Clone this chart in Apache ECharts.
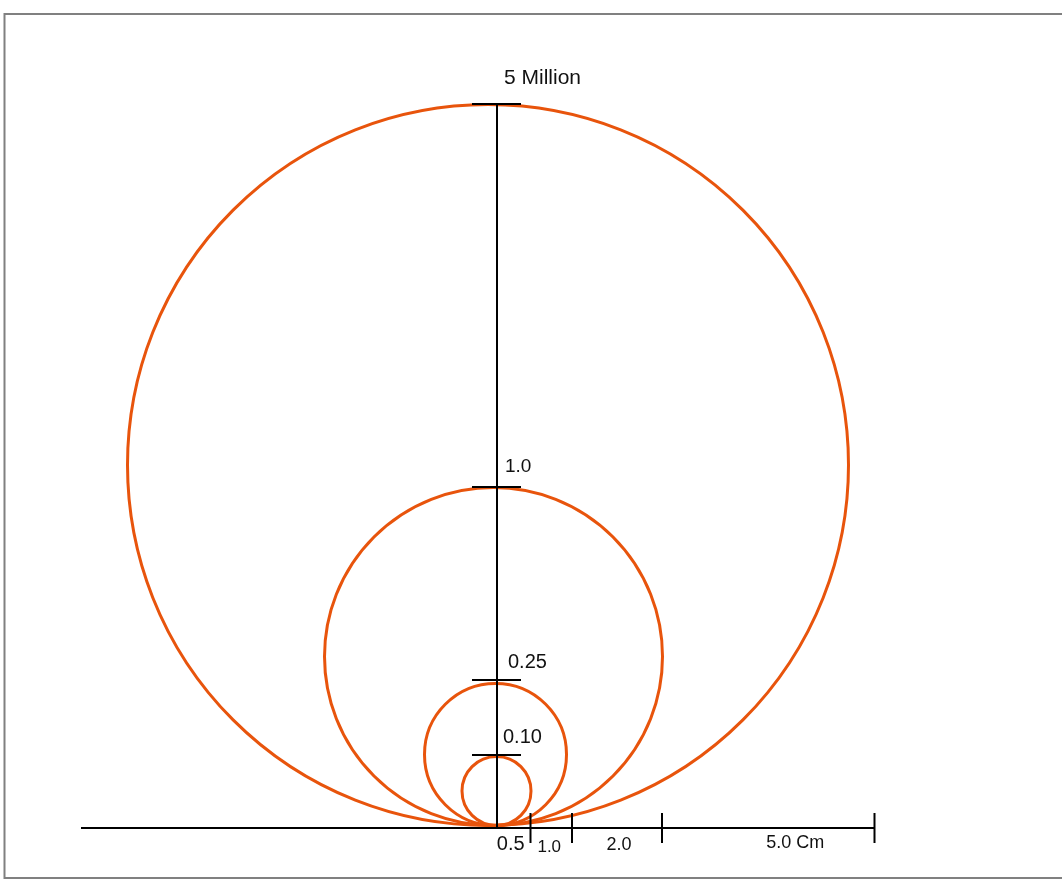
<!DOCTYPE html>
<html><head><meta charset="utf-8">
<script src="https://cdn.jsdelivr.net/npm/echarts@6/dist/echarts.min.js"></script>
<style>html,body{margin:0;padding:0;background:#fff}#c{width:1062px;height:894px}</style>
</head><body><div id="c"></div>
<script>
// ---- data (units = reference picture pixels) ----
const sizeLabels = ['0.10', '0.25', '1.0', '5 Million'];
const circleCenterX = [496.5, 495.5, 493.5, 488];
const circleRadius = [34.5, 71, 169, 360.5];
const tangentY = 825.5;
const vScaleX = 497;
const vTickY = [755, 680, 487, 104];
const hAxisY = 828;
const hAxisStartX = 81;
const hLabels = ['0.5', '1.0', '2.0', '5.0 Cm'];
const hTickX = [530.5, 572, 662, 874.5];

const FONT = '"Liberation Sans", Arial, sans-serif';
const ORANGE = '#E8540C';

// label styling (offsets from each tick, in px)
const vLabelDx = [6, 11, 8, 7];
const vLabelDy = [-18, -18, -20, -26];
const vLabelSize = [20, 20, 19, 21];
const hLabelDx = [-3, -2, 2, 27];
const hLabelDy = [16, 19, 17, 15];
const hLabelSize = [20, 17, 18, 18];

const circleData = circleRadius.map((r, i) => [circleCenterX[i], tangentY - r, r]);
const vData = vTickY.map((y, i) => [vScaleX, y, sizeLabels[i]]);
const hData = hTickX.map((x, i) => [x, hAxisY, hLabels[i], i === 0 ? vScaleX : hTickX[i - 1]]);

const chart = echarts.init(document.getElementById('c'), null, {renderer: 'canvas'});
chart.setOption({
  animation: false,
  backgroundColor: '#fff',
  grid: {left: 0, right: 0, top: 0, bottom: 0},
  xAxis: {type: 'value', min: 0, max: 1062, show: false},
  yAxis: {type: 'value', min: 0, max: 894, inverse: true, show: false},
  graphic: [{
    type: 'rect', left: 2, top: 11.5, z: 100,
    shape: {width: 1100, height: 864},
    style: {fill: 'none', stroke: '#808080', lineWidth: 2}
  }],
  series: [
    {
      type: 'custom', coordinateSystem: 'cartesian2d', data: circleData, z: 2,
      renderItem(params, api) {
        const c = api.coord([api.value(0), api.value(1)]);
        const r = api.size([api.value(2), 0])[0];
        return {type: 'circle', shape: {cx: c[0], cy: c[1], r: r},
          style: {fill: 'none', stroke: ORANGE, lineWidth: 3}};
      }
    },
    {
      // vertical scale line + ticks + labels
      type: 'custom', coordinateSystem: 'cartesian2d', data: vData, z: 3,
      renderItem(params, api) {
        const i = params.dataIndex;
        const p = api.coord([api.value(0), api.value(1)]);
        const base = api.coord([vScaleX, hAxisY]);
        const children = [
          {type: 'line', shape: {x1: p[0] - 25, y1: p[1], x2: p[0] + 24, y2: p[1]},
            style: {stroke: '#000', lineWidth: 2}},
          {type: 'text', x: p[0] + vLabelDx[i], y: p[1] + vLabelDy[i],
            style: {text: sizeLabels[i], font: vLabelSize[i] + 'px ' + FONT, fill: '#111',
              verticalAlign: 'middle', align: 'left'}}
        ];
        if (i === vData.length - 1) {
          children.push({type: 'line', shape: {x1: p[0], y1: p[1], x2: base[0], y2: base[1]},
            style: {stroke: '#000', lineWidth: 2}});
        }
        return {type: 'group', children};
      }
    },
    {
      // horizontal scale
      type: 'custom', coordinateSystem: 'cartesian2d', data: hData, z: 3,
      renderItem(params, api) {
        const p = api.coord([api.value(0), api.value(1)]);
        const prev = api.coord([api.value(3), api.value(1)]);
        const i = params.dataIndex;
        const children = [
          {type: 'line', shape: {x1: p[0], y1: p[1] - 15, x2: p[0], y2: p[1] + 15},
            style: {stroke: '#000', lineWidth: 2}},
          {type: 'text', x: (p[0] + prev[0]) / 2 + hLabelDx[i], y: p[1] + hLabelDy[i],
            style: {text: hLabels[i], font: hLabelSize[i] + 'px ' + FONT, fill: '#111',
              verticalAlign: 'middle', align: 'center'}}
        ];
        if (i === 0) {
          const s = api.coord([hAxisStartX, api.value(1)]);
          const e = api.coord([hTickX[hTickX.length - 1], api.value(1)]);
          children.push({type: 'line', shape: {x1: s[0], y1: s[1], x2: e[0], y2: e[1]},
            style: {stroke: '#000', lineWidth: 2}});
        }
        return {type: 'group', children};
      }
    }
  ]
});
</script></body></html>
